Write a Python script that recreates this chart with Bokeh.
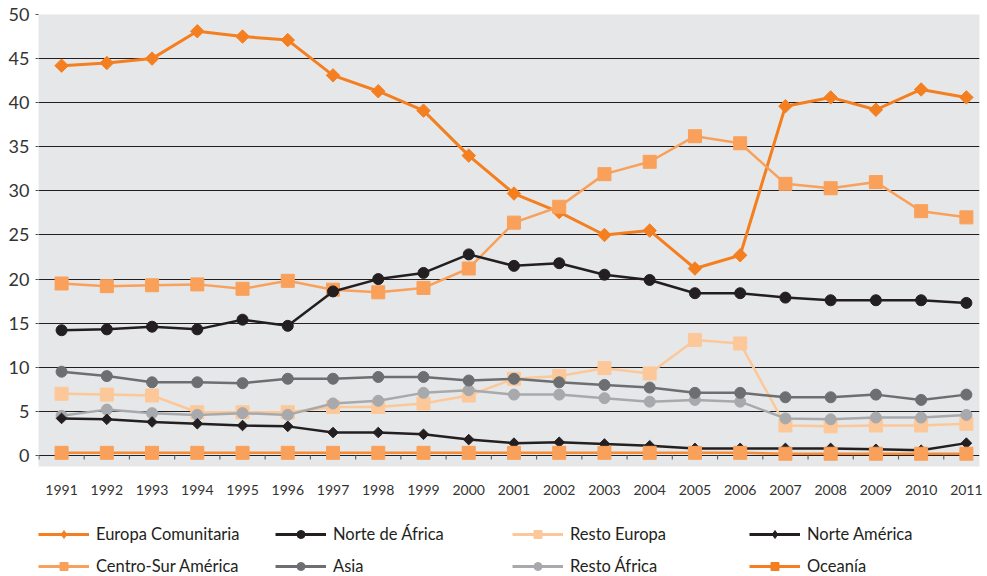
import math
from bokeh.plotting import figure
from bokeh.layouts import column
from bokeh.models import Legend, LegendItem, FixedTicker, Range1d
from bokeh.embed import file_html
from bokeh.resources import INLINE

years = list(range(1991, 2012))

europa_comunitaria = [44.2, 44.5, 45.0, 48.1, 47.5, 47.1, 43.1, 41.3, 39.1, 34.0, 29.7,
                      27.6, 25.0, 25.5, 21.2, 22.7, 39.6, 40.6, 39.2, 41.5, 40.6]
centro_sur_america = [19.5, 19.2, 19.3, 19.4, 18.9, 19.8, 18.8, 18.5, 19.0, 21.2, 26.4,
                      28.2, 31.9, 33.3, 36.2, 35.4, 30.8, 30.3, 31.0, 27.7, 27.0]
norte_africa = [14.2, 14.3, 14.6, 14.3, 15.4, 14.7, 18.6, 20.0, 20.7, 22.8, 21.5,
                21.8, 20.5, 19.9, 18.4, 18.4, 17.9, 17.6, 17.6, 17.6, 17.3]
resto_europa = [7.0, 6.9, 6.8, 4.9, 4.9, 4.9, 5.5, 5.5, 5.9, 6.8, 8.7,
                9.0, 9.9, 9.3, 13.1, 12.7, 3.4, 3.3, 3.4, 3.4, 3.6]
resto_africa = [4.5, 5.2, 4.8, 4.6, 4.8, 4.6, 5.9, 6.2, 7.1, 7.4, 6.9,
                6.9, 6.5, 6.1, 6.3, 6.1, 4.2, 4.1, 4.3, 4.3, 4.6]
asia = [9.5, 9.0, 8.3, 8.3, 8.2, 8.7, 8.7, 8.9, 8.9, 8.5, 8.7,
        8.3, 8.0, 7.7, 7.1, 7.1, 6.6, 6.6, 6.9, 6.3, 6.9]
norte_america = [4.2, 4.1, 3.8, 3.6, 3.4, 3.3, 2.6, 2.6, 2.4, 1.8, 1.4,
                 1.5, 1.3, 1.1, 0.8, 0.8, 0.8, 0.8, 0.7, 0.6, 1.4]
oceania = [0.3, 0.3, 0.3, 0.3, 0.3, 0.3, 0.3, 0.3, 0.3, 0.3, 0.3,
           0.3, 0.3, 0.3, 0.3, 0.3, 0.2, 0.2, 0.2, 0.2, 0.2]

y_ticks = [0, 5, 10, 15, 20, 25, 30, 35, 40, 45, 50]

FONT = "Lato"
DARK = "#231f20"

p = figure(width=987, height=500, output_backend="svg", toolbar_location=None,
           x_range=Range1d(1990.49, 2011.29), y_range=Range1d(-1.25, 50),
           min_border_left=38, min_border_right=8, min_border_top=14, min_border_bottom=34,
           background_fill_color="#e6e7e8", border_fill_color="white",
           outline_line_color=None)

# axes
p.yaxis.ticker = FixedTicker(ticks=y_ticks)
p.yaxis.axis_line_color = None
p.yaxis.major_tick_in = 0
p.yaxis.major_tick_out = 3
p.yaxis.major_tick_line_color = "#555555"
p.yaxis.minor_tick_line_color = None
p.yaxis.major_label_text_font = FONT
p.yaxis.major_label_text_font_size = "18px"
p.yaxis.major_label_text_color = "#333333"
p.yaxis.major_label_standoff = 6

p.xaxis.ticker = FixedTicker(ticks=years)
p.xaxis.axis_line_color = None
p.xaxis.major_tick_line_color = None
p.xaxis.minor_tick_line_color = None
p.xaxis.major_label_text_font = FONT
p.xaxis.major_label_text_font_size = "14px"
p.xaxis.major_label_text_color = "#333333"
p.xaxis.major_label_standoff = 12

p.xgrid.grid_line_color = None
p.ygrid.ticker = FixedTicker(ticks=y_ticks[:-1])
p.ygrid.grid_line_color = DARK
p.ygrid.grid_line_width = 1

# category separators on the zero line
sep_x = [y - 0.5 for y in years]
p.segment(x0=sep_x, y0=[0] * len(sep_x), x1=sep_x, y1=[-0.45] * len(sep_x),
          line_color="#666666", line_width=1.2)

# name, values, line colour, marker colour, marker, size, angle, line width, legend marker, legend size
series = [
    ("Europa Comunitaria", europa_comunitaria, "#f47f20", "#f47f20", "square", 9.5, math.pi / 4, 3, "diamond", 12),
    ("Centro-Sur América", centro_sur_america, "#f9a05a", "#f9a05a", "square", 13, 0, 2.5, "square", 8),
    ("Norte de África", norte_africa, DARK, DARK, "circle", 11, 0, 2.5, "circle", 5.5),
    ("Resto Europa", resto_europa, "#fdc899", "#fdc899", "square", 13, 0, 2.5, "square", 8),
    ("Resto África", resto_africa, "#a7a9ac", "#a7a9ac", "circle", 11, 0, 2.5, "circle", 5.5),
    ("Asia", asia, "#6d6e71", "#6d6e71", "circle", 11, 0, 2.5, "circle", 5.5),
    ("Norte América", norte_america, DARK, DARK, "square", 7.5, math.pi / 4, 2.5, "diamond", 12),
    ("Oceanía", oceania, "#f68b36", "#f9a05a", "square", 13, 0, 2.5, "square", 8),
]

for name, vals, lcol, mcol, marker, size, angle, lw, lmark, lsize in series:
    p.line(years, vals, line_color=lcol, line_width=lw)
    p.scatter(years, vals, marker=marker, size=size, angle=angle,
              fill_color=mcol, line_color=mcol)

# legend strip below the chart (series re-drawn out of view, only their legend shows)
lg = figure(width=987, height=76, output_backend="svg", toolbar_location=None,
            x_range=Range1d(0, 1), y_range=Range1d(0, 1),
            x_axis_type=None, y_axis_type=None, min_border=0,
            min_border_left=0, min_border_right=0, min_border_top=0, min_border_bottom=0,
            outline_line_color=None, border_fill_color="white",
            background_fill_color="white")

legend_colors = {
    "Oceanía": ("#f47f20", "#f47f20"),
}
renderers = {}
for name, vals, lcol, mcol, marker, size, angle, lw, lmark, lsize in series:
    lc, mc = legend_colors.get(name, (lcol, mcol))
    l = lg.line(years, vals, line_color=lc, line_width=3)
    s = lg.scatter(years, vals, marker=lmark, size=lsize, fill_color=mc, line_color=mc)
    renderers[name] = [l, s]

order = ["Europa Comunitaria", "Norte de África", "Resto Europa", "Norte América",
         "Centro-Sur América", "Asia", "Resto África", "Oceanía"]
items = [LegendItem(label=n, renderers=renderers[n]) for n in order]

legend = Legend(items=items, orientation="horizontal", ncols=4,
                location=(0, 0), label_text_font=FONT, label_text_font_size="16.5px",
                label_text_color=DARK, glyph_width=51, glyph_height=20, label_height=20,
                label_standoff=7, label_width=167, spacing=12, padding=0, margin=0,
                border_line_color=None, background_fill_alpha=0)
lg.add_layout(legend, "center")

layout = column(p, lg, spacing=0)
open("out.html", "w").write(file_html(layout, INLINE))
